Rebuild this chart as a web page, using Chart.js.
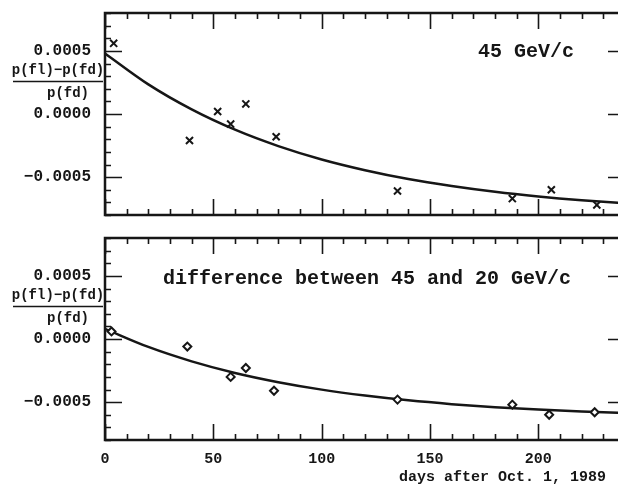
<!DOCTYPE html>
<html>
<head>
<meta charset="utf-8">
<script src="https://cdn.jsdelivr.net/npm/chart.js@4/dist/chart.umd.min.js"></script>
<style>
html, body { margin: 0; padding: 0; background: #fff; overflow: hidden; width: 618px; height: 489px; }
canvas { position: absolute; left: 0; }
</style>
</head>
<body>
<canvas id="topChart" width="640" height="225" style="top:0"></canvas>
<canvas id="bottomChart" width="640" height="264" style="top:225px"></canvas>
<script>
// days after Oct. 1, 1989
var days45 = [4, 39, 52, 58, 65, 79, 135, 188, 206, 227];
var vals45 = [0.00056, -0.00021, 0.00002, -0.00008, 0.00008, -0.00018, -0.00061, -0.00067, -0.00060, -0.00072];

var daysDiff = [3, 38, 58, 65, 78, 135, 188, 205, 226];
var valsDiff = [0.00006, -0.00006, -0.00030, -0.00023, -0.00041, -0.00048, -0.00052, -0.00060, -0.00058];

// fitted curves
var fitDays = [0, 20, 40, 60, 80, 100, 120, 140, 160, 180, 200, 220, 240];
var fit45 = [0.00048, 0.000235, 0.000037, -0.000124, -0.000254, -0.00036, -0.000445, -0.000515, -0.00057, -0.000616, -0.000653, -0.000683, -0.000707];
var fitDiff = [0.00008, -0.000063, -0.000177, -0.000269, -0.000342, -0.000401, -0.000448, -0.000486, -0.000516, -0.00054, -0.000559, -0.000575, -0.000587];

var xTicks = [0, 50, 100, 150, 200];
var xTickLabels = ['0', '50', '100', '150', '200'];
var yTicks = [-0.0005, 0, 0.0005];
var yTickLabels = ['\u22120.0005', '0.0000', '0.0005'];

var ink = '#161616';
var mono = '"Liberation Mono", "DejaVu Sans Mono", monospace';

function pts(xs, ys) {
  return xs.map(function (x, i) { return { x: x, y: ys[i] }; });
}

// frame with inward ticks on all four sides, plus the text on the plot
var frame = {
  id: 'frame',
  afterDraw: function (chart, args, opts) {
    var ctx = chart.ctx, a = chart.chartArea, xs = chart.scales.x, ys = chart.scales.y;
    ctx.save();
    ctx.strokeStyle = ink;
    ctx.lineWidth = 1.6;
    ctx.beginPath();
    for (var d = 0; d <= 240; d += 10) {
      var px = Math.round(xs.getPixelForValue(d)) + 0.5;
      var len = d % 50 === 0 ? 16 : 6;
      ctx.moveTo(px, a.bottom); ctx.lineTo(px, a.bottom - len);
      ctx.moveTo(px, a.top); ctx.lineTo(px, a.top + len);
    }
    for (var i = -8; i <= 8; i++) {
      var py = Math.round(ys.getPixelForValue(i * 0.0001)) + 0.5;
      var l2 = i % 5 === 0 ? 17 : 6;
      ctx.moveTo(a.left, py); ctx.lineTo(a.left + l2, py);
      ctx.moveTo(a.right, py); ctx.lineTo(a.right - l2, py);
    }
    ctx.stroke();
    ctx.lineWidth = 2.5;
    ctx.strokeRect(a.left, a.top, a.right - a.left, a.bottom - a.top);

    // y axis title as a fraction
    ctx.fillStyle = ink;
    ctx.font = 'bold 14px ' + mono;
    ctx.textAlign = 'center';
    ctx.textBaseline = 'middle';
    ctx.fillText('p(fl)\u2212p(fd)', 58, 70);
    ctx.fillText('p(fd)', 68, 93);
    ctx.lineWidth = 1.6;
    ctx.beginPath();
    ctx.moveTo(13, 81.5); ctx.lineTo(103, 81.5);
    ctx.stroke();

    // panel label
    ctx.font = 'bold 20px ' + mono;
    ctx.textAlign = 'left';
    ctx.fillText(opts.label, opts.lx, opts.ly);

    if (opts.xTitle) {
      ctx.font = 'bold 15px ' + mono;
      ctx.textAlign = 'right';
      ctx.fillText(opts.xTitle, 606, 252);
    }
    ctx.restore();
  }
};

function makeChart(id, xs, ys, fit, style, radius, fill, extra) {
  var showX = !!extra.xTitle;
  return new Chart(document.getElementById(id), {
    type: 'scatter',
    data: {
      datasets: [{
        data: pts(xs, ys),
        pointStyle: style,
        pointRadius: radius,
        pointBorderWidth: 2,
        pointBorderColor: ink,
        pointBackgroundColor: fill,
        borderColor: ink,
        backgroundColor: fill
      }, {
        data: pts(fitDays, fit),
        showLine: true,
        borderColor: ink,
        borderWidth: 2.5,
        pointRadius: 0,
        cubicInterpolationMode: 'monotone'
      }]
    },
    options: {
      responsive: false,
      animation: false,
      layout: { padding: { top: 13, right: 15, bottom: showX ? 0 : 10, left: 0 } },
      plugins: {
        legend: { display: false },
        tooltip: { enabled: false },
        frame: extra
      },
      scales: {
        x: {
          type: 'linear',
          min: 0, max: 240,
          display: showX,
          grid: { display: false, drawTicks: false },
          border: { display: false },
          afterBuildTicks: function (s) { s.ticks = xTicks.map(function (v) { return { value: v }; }); },
          afterFit: function (s) {
            s.height = showX ? 49 : 0;
            s.paddingLeft = 0; s.paddingRight = 0;
          },
          ticks: {
            padding: 10,
            color: ink,
            font: { family: mono, size: 15, weight: 'bold' },
            callback: function (v, i) { return xTickLabels[i]; }
          }
        },
        y: {
          type: 'linear',
          min: -0.0008, max: 0.0008,
          grid: { display: false, drawTicks: false },
          border: { display: false },
          afterBuildTicks: function (s) { s.ticks = yTicks.map(function (v) { return { value: v }; }); },
          afterFit: function (s) {
            s.width = 105;
            s.paddingTop = 0; s.paddingBottom = 0;
          },
          ticks: {
            padding: 14,
            color: ink,
            font: { family: mono, size: 16, weight: 'bold' },
            callback: function (v, i) { return yTickLabels[i]; }
          }
        }
      }
    },
    plugins: [frame]
  });
}

makeChart('topChart', days45, vals45, fit45, 'crossRot', 5, ink,
  { label: '45 GeV/c', lx: 478, ly: 52 });
makeChart('bottomChart', daysDiff, valsDiff, fitDiff, 'rectRot', 4, '#fff',
  { label: 'difference between 45 and 20 GeV/c', lx: 163, ly: 54, xTitle: 'days after Oct. 1, 1989' });
</script>
</body>
</html>
